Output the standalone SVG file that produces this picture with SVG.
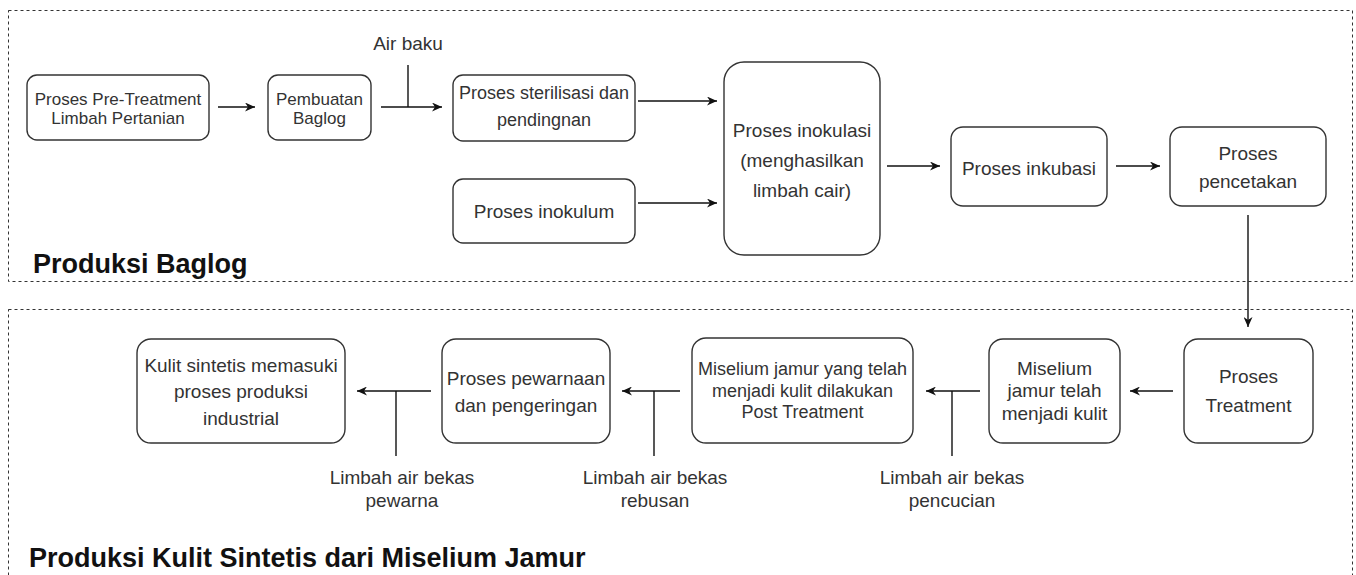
<svg xmlns="http://www.w3.org/2000/svg" width="1356" height="575" viewBox="0 0 1356 575">
<style>
  .bg { fill: #ffffff; }
  .container { fill: none; stroke: #333333; stroke-width: 1; stroke-dasharray: 3 3; }
  .box { fill: #ffffff; stroke: #333333; stroke-width: 1.4; }
  .t { font-family: "Liberation Sans", Arial, sans-serif; fill: #333333; text-anchor: middle; }
  .title { font-family: "Liberation Sans", Arial, sans-serif; font-weight: bold; fill: #111111; font-size: 27px; }
  .edge { fill: none; stroke: #111111; stroke-width: 1.4; }
</style>
<defs>
  <marker id="arrow" markerUnits="userSpaceOnUse" markerWidth="11" markerHeight="9" refX="10" refY="4.5" orient="auto">
    <path d="M0,0 L10,4.5 L0,9 L3,4.5 z" fill="#111111"/>
  </marker>
</defs>
<rect class="bg" x="0" y="0" width="1356" height="575"/>

<g id="container-baglog">
  <rect class="container" x="8.5" y="10.5" width="1344" height="271"/>
  <text class="title" x="33" y="273">Produksi Baglog</text>
</g>
<g id="container-kulit">
  <rect class="container" x="8.5" y="309.5" width="1344" height="280"/>
  <text class="title" x="29" y="567">Produksi Kulit Sintetis dari Miselium Jamur</text>
</g>

<g id="node-pretreatment">
  <rect class="box" x="27" y="75" width="182" height="65" rx="10"/>
  <text class="t" x="118" y="105" font-size="17">Proses Pre-Treatment</text>
  <text class="t" x="118" y="124" font-size="17">Limbah Pertanian</text>
</g>
<g id="node-baglog">
  <rect class="box" x="268" y="75" width="103" height="65" rx="10"/>
  <text class="t" x="319.5" y="105" font-size="17">Pembuatan</text>
  <text class="t" x="319.5" y="124" font-size="17">Baglog</text>
</g>
<g id="node-sterilisasi">
  <rect class="box" x="453" y="75" width="182" height="66" rx="10"/>
  <text class="t" x="544" y="99" font-size="18">Proses sterilisasi dan</text>
  <text class="t" x="544" y="126" font-size="18">pendingnan</text>
</g>
<g id="node-inokulum">
  <rect class="box" x="453" y="179" width="182" height="64" rx="10"/>
  <text class="t" x="544" y="218" font-size="19">Proses inokulum</text>
</g>
<g id="node-inokulasi">
  <rect class="box" x="724" y="62" width="156" height="193" rx="20"/>
  <text class="t" x="802" y="137" font-size="19">Proses inokulasi</text>
  <text class="t" x="802" y="167" font-size="19">(menghasilkan</text>
  <text class="t" x="802" y="197" font-size="19">limbah cair)</text>
</g>
<g id="node-inkubasi">
  <rect class="box" x="951" y="127" width="156" height="79" rx="12"/>
  <text class="t" x="1029" y="175" font-size="19">Proses inkubasi</text>
</g>
<g id="node-pencetakan">
  <rect class="box" x="1170" y="127" width="156" height="79" rx="12"/>
  <text class="t" x="1248" y="160" font-size="19">Proses</text>
  <text class="t" x="1248" y="188" font-size="19">pencetakan</text>
</g>

<g id="node-treatment">
  <rect class="box" x="1184" y="339" width="129" height="104" rx="14"/>
  <text class="t" x="1248.5" y="383" font-size="19">Proses</text>
  <text class="t" x="1248.5" y="412" font-size="19">Treatment</text>
</g>
<g id="node-miselium">
  <rect class="box" x="989" y="339" width="131" height="104" rx="14"/>
  <text class="t" x="1054.5" y="375" font-size="19">Miselium</text>
  <text class="t" x="1054.5" y="397" font-size="19">jamur telah</text>
  <text class="t" x="1054.5" y="420" font-size="19">menjadi kulit</text>
</g>
<g id="node-posttreatment">
  <rect class="box" x="692" y="338" width="221" height="105" rx="14"/>
  <text class="t" x="802.5" y="375" font-size="18">Miselium jamur yang telah</text>
  <text class="t" x="802.5" y="397" font-size="18">menjadi kulit dilakukan</text>
  <text class="t" x="802.5" y="418" font-size="18">Post Treatment</text>
</g>
<g id="node-pewarnaan">
  <rect class="box" x="442" y="339" width="168" height="104" rx="14"/>
  <text class="t" x="526" y="385" font-size="19">Proses pewarnaan</text>
  <text class="t" x="526" y="412" font-size="19">dan pengeringan</text>
</g>
<g id="node-kulit">
  <rect class="box" x="137" y="339" width="208" height="104" rx="14"/>
  <text class="t" x="241" y="372" font-size="19">Kulit sintetis memasuki</text>
  <text class="t" x="241" y="398" font-size="19">proses produksi</text>
  <text class="t" x="241" y="425" font-size="19">industrial</text>
</g>

<g id="label-airbaku">
  <text class="t" x="408" y="50" font-size="19">Air baku</text>
</g>
<g id="label-pewarna">
  <text class="t" x="402" y="484" font-size="19">Limbah air bekas</text>
  <text class="t" x="402" y="507" font-size="19">pewarna</text>
</g>
<g id="label-rebusan">
  <text class="t" x="655" y="484" font-size="19">Limbah air bekas</text>
  <text class="t" x="655" y="507" font-size="19">rebusan</text>
</g>
<g id="label-pencucian">
  <text class="t" x="952" y="484" font-size="19">Limbah air bekas</text>
  <text class="t" x="952" y="507" font-size="19">pencucian</text>
</g>

<g id="connectors">
  <line class="edge" x1="218" y1="107" x2="255" y2="107" marker-end="url(#arrow)"/>
  <line class="edge" x1="381" y1="107" x2="442" y2="107" marker-end="url(#arrow)"/>
  <line class="edge" x1="408" y1="65" x2="408" y2="107"/>
  <line class="edge" x1="638" y1="101" x2="717" y2="101" marker-end="url(#arrow)"/>
  <line class="edge" x1="638" y1="203" x2="717" y2="203" marker-end="url(#arrow)"/>
  <line class="edge" x1="887" y1="166" x2="940" y2="166" marker-end="url(#arrow)"/>
  <line class="edge" x1="1116" y1="166" x2="1160" y2="166" marker-end="url(#arrow)"/>
  <line class="edge" x1="1248" y1="215" x2="1248" y2="327" marker-end="url(#arrow)"/>
  <line class="edge" x1="1173" y1="391" x2="1130" y2="391" marker-end="url(#arrow)"/>
  <line class="edge" x1="980" y1="391" x2="926" y2="391" marker-end="url(#arrow)"/>
  <line class="edge" x1="952" y1="391" x2="952" y2="456"/>
  <line class="edge" x1="680" y1="391" x2="622" y2="391" marker-end="url(#arrow)"/>
  <line class="edge" x1="654" y1="391" x2="654" y2="456"/>
  <line class="edge" x1="431" y1="391" x2="357" y2="391" marker-end="url(#arrow)"/>
  <line class="edge" x1="396" y1="391" x2="396" y2="456"/>
</g>
</svg>
